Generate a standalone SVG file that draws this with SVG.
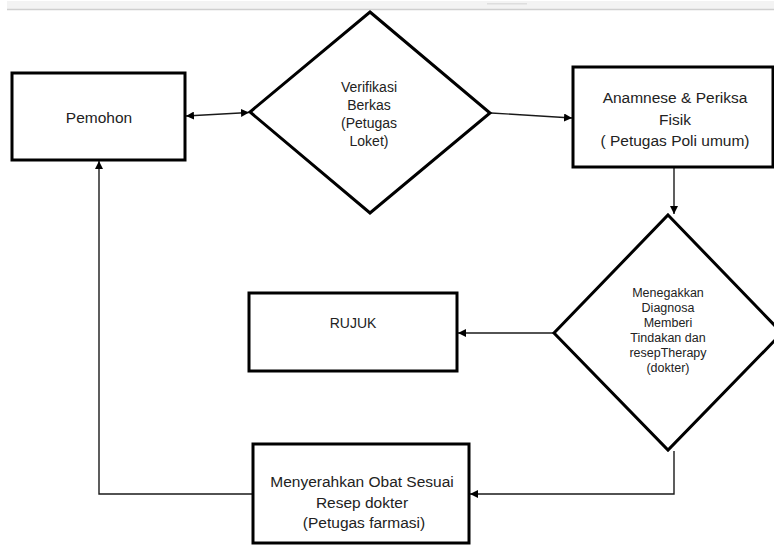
<svg xmlns="http://www.w3.org/2000/svg" width="774" height="545" viewBox="0 0 774 545">
<defs>
<style>
.box{fill:#fff;stroke:#000;stroke-width:3}
.dia{fill:#fff;stroke:#000;stroke-width:3;stroke-linejoin:miter}
.conn{fill:none;stroke:#1a1a1a;stroke-width:1.4}
text{font-family:"Liberation Sans",Arial,sans-serif;fill:#222;text-anchor:middle}
.t15{font-size:15.5px}
.t14{font-size:14px}
.t12{font-size:12.5px}
</style>
<marker id="ah" viewBox="0 0 10 10" refX="10" refY="5" markerWidth="8" markerHeight="8" markerUnits="userSpaceOnUse" orient="auto-start-reverse">
<path d="M0,0 L10,5 L0,10 z" fill="#000"/>
</marker>
</defs>
<rect x="0" y="0" width="774" height="545" fill="#fff"/>
<g id="topbar">
<rect x="7" y="1" width="767" height="8" fill="#f3f3f3"/>
<line x1="7" y1="9.5" x2="774" y2="9.5" stroke="#cfcfcf" stroke-width="1.5"/>
<rect x="487" y="3" width="40" height="1.5" fill="#dedede"/>
</g>
<g id="connectors">
<line class="conn" x1="186" y1="116" x2="249" y2="112.5" marker-start="url(#ah)" marker-end="url(#ah)"/>
<line class="conn" x1="491" y1="113" x2="572" y2="118" marker-end="url(#ah)"/>
<line class="conn" x1="674" y1="168" x2="674" y2="214" marker-end="url(#ah)"/>
<line class="conn" x1="554" y1="333" x2="458" y2="333" marker-end="url(#ah)"/>
<polyline class="conn" points="674,451 674,494 470,494" marker-end="url(#ah)"/>
<polyline class="conn" points="253,494 99,494 99,161" marker-end="url(#ah)"/>
</g>
<g id="pemohon">
<rect class="box" x="12" y="73" width="173" height="87"/>
<text class="t15" x="99" y="123">Pemohon</text>
</g>
<g id="verifikasi">
<polygon class="dia" points="370,12 490,113 370,213 250,112"/>
<text class="t14" x="369" y="92">Verifikasi</text>
<text class="t14" x="369" y="110">Berkas</text>
<text class="t14" x="369" y="128">(Petugas</text>
<text class="t14" x="369" y="146">Loket)</text>
</g>
<g id="anamnese">
<rect class="box" x="573" y="67" width="200" height="100"/>
<text class="t15" x="675" y="103">Anamnese &amp; Periksa</text>
<text class="t15" x="675" y="125">Fisik</text>
<text class="t15" x="675" y="146">( Petugas Poli umum)</text>
</g>
<g id="diagnosa">
<polygon class="dia" points="668,215 782,333 668,450 554,333"/>
<text class="t12" x="668" y="297">Menegakkan</text>
<text class="t12" x="668" y="312">Diagnosa</text>
<text class="t12" x="668" y="327">Memberi</text>
<text class="t12" x="668" y="342">Tindakan dan</text>
<text class="t12" x="668" y="357">resepTherapy</text>
<text class="t12" x="668" y="372">(dokter)</text>
</g>
<g id="rujuk">
<rect class="box" x="249" y="293" width="208" height="78"/>
<text class="t14" x="353" y="328">RUJUK</text>
</g>
<g id="farmasi">
<rect class="box" x="253" y="444" width="216" height="99"/>
<text class="t15" x="362" y="487">Menyerahkan Obat Sesuai</text>
<text class="t15" x="362" y="508">Resep dokter</text>
<text class="t15" x="364" y="528">(Petugas farmasi)</text>
</g>
</svg>
